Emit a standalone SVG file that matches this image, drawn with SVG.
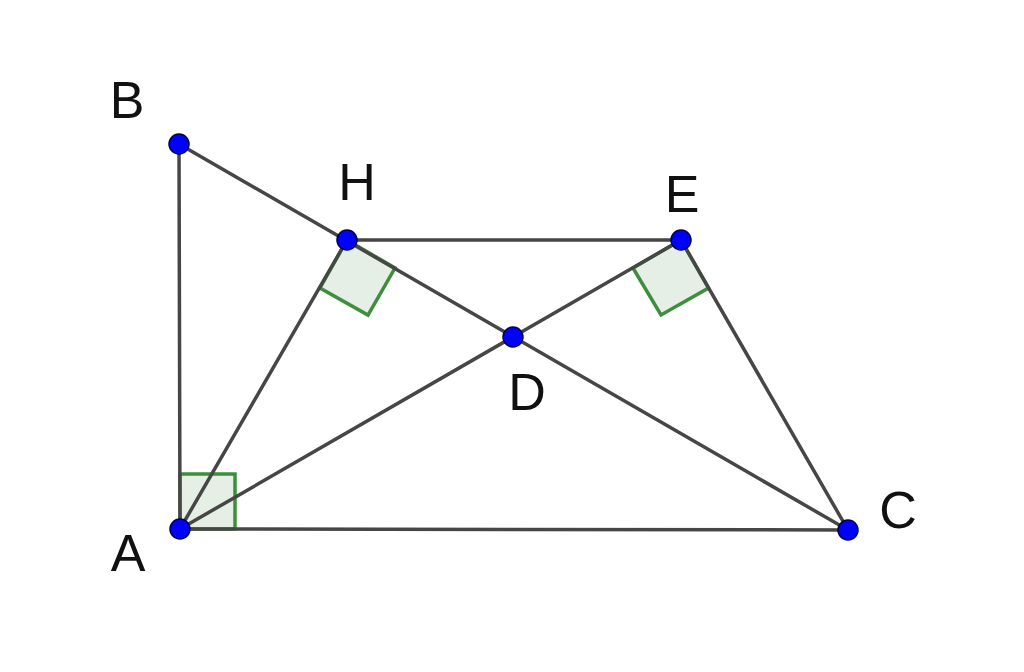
<svg xmlns="http://www.w3.org/2000/svg" width="1024" height="672" viewBox="0 0 1024 672">
<style>
.ang{fill:#e5efe5;stroke:#3d8f3d;stroke-width:3.5;stroke-linejoin:miter}
.seg{stroke:#464646;stroke-width:3.5;stroke-linecap:round;fill:none}
.pt{fill:#0000ff;stroke:#00004a;stroke-width:1.5}
.lbl{font-family:"Liberation Sans",Arial,sans-serif;font-size:52px;fill:#111}
</style>
<rect width="1024" height="672" fill="#ffffff"/>
<g id="angles">
<polygon class="ang" points="180,529 235,529 235,474 180,474"/>
<polygon class="ang" points="347,240 395,268 368,315 320,288"/>
<polygon class="ang" points="681,240 633,268 661,315 708.5,288"/>
</g>
<g id="connectors">
<line class="seg" x1="180" y1="529" x2="179" y2="144"/>
<line class="seg" x1="179" y1="144" x2="848" y2="530"/>
<line class="seg" x1="347" y1="240" x2="681" y2="240"/>
<line class="seg" x1="180" y1="529" x2="347" y2="240"/>
<line class="seg" x1="180" y1="529" x2="681" y2="240"/>
<line class="seg" x1="681" y1="240" x2="848" y2="530"/>
<line class="seg" x1="180" y1="529" x2="848" y2="530"/>
</g>
<g id="node-B"><circle class="pt" cx="179" cy="144" r="10"/><text class="lbl" x="127" y="118" text-anchor="middle">B</text></g>
<g id="node-H"><circle class="pt" cx="347" cy="240" r="10"/><text class="lbl" x="357" y="200" text-anchor="middle">H</text></g>
<g id="node-E"><circle class="pt" cx="681" cy="240" r="10"/><text class="lbl" x="682" y="212" text-anchor="middle">E</text></g>
<g id="node-D"><circle class="pt" cx="513" cy="337" r="10"/><text class="lbl" x="527" y="410" text-anchor="middle">D</text></g>
<g id="node-A"><circle class="pt" cx="180" cy="529" r="10"/><text class="lbl" x="128" y="571" text-anchor="middle">A</text></g>
<g id="node-C"><circle class="pt" cx="848" cy="530" r="10"/><text class="lbl" x="898" y="528" text-anchor="middle">C</text></g>
</svg>
